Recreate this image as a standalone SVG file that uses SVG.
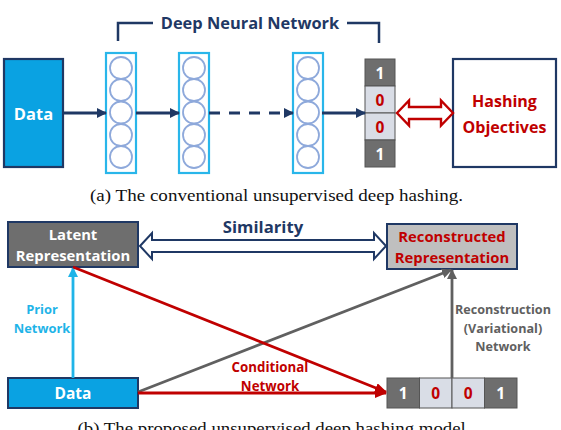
<svg xmlns="http://www.w3.org/2000/svg" width="561" height="430" viewBox="0 0 561 430">
<defs>
<style>
.lbl{font-family:"Open Sans",Lato,"Liberation Sans",sans-serif;font-weight:bold;text-anchor:middle}
.cap{font-family:"Liberation Serif","DejaVu Serif",serif;font-size:16.5px;fill:#111}
.layer{fill:#fff;stroke:#29B6EA;stroke-width:2.2}
.neu{fill:#fff;stroke:#8EA9DB;stroke-width:1.8}
.dark{fill:#6E6E6E;stroke:#555;stroke-width:1}
.light{fill:#D9DDE6;stroke:#555;stroke-width:1}
.w{fill:#fff}
.r{fill:#C00000}
</style>
<marker id="mNavy" viewBox="0 0 10 10" refX="9" refY="5" markerWidth="10" markerHeight="10" markerUnits="userSpaceOnUse" orient="auto"><path d="M0,0 L10,5 L0,10 z" fill="#1F3864"/></marker>
<marker id="mRed" viewBox="0 0 12 10" refX="11" refY="5" markerWidth="12" markerHeight="10" markerUnits="userSpaceOnUse" orient="auto"><path d="M0,0 L12,5 L0,10 z" fill="#C00000"/></marker>
<marker id="mGray" viewBox="0 0 10 10" refX="9" refY="5" markerWidth="10" markerHeight="10" markerUnits="userSpaceOnUse" orient="auto"><path d="M0,0 L10,5 L0,10 z" fill="#606060"/></marker>
<marker id="mCyan" viewBox="0 0 10 10" refX="9" refY="5" markerWidth="10" markerHeight="10" markerUnits="userSpaceOnUse" orient="auto"><path d="M0,0 L10,5 L0,10 z" fill="#1FB4E8"/></marker>
<g id="neurons">
<rect class="layer" x="0" y="0" width="30" height="120"/>
<circle class="neu" cx="15" cy="15" r="11"/>
<circle class="neu" cx="15" cy="37" r="11"/>
<circle class="neu" cx="15" cy="59.5" r="11"/>
<circle class="neu" cx="15" cy="82" r="11"/>
<circle class="neu" cx="15" cy="104" r="11"/>
</g>
</defs>

<!-- (a) -->
<g id="dnn-bracket">
<polyline points="118,41 118,23 153,23" fill="none" stroke="#1F3864" stroke-width="2.5"/>
<polyline points="347,23 379,23 379,43" fill="none" stroke="#1F3864" stroke-width="2.5"/>
<text class="lbl" x="250" y="29" font-size="16.4" fill="#1F3864">Deep Neural Network</text>
</g>
<g id="data-a">
<rect x="4" y="59" width="59" height="108" fill="#0AA2E2" stroke="#1F3864" stroke-width="2.2"/>
<text class="lbl w" x="33.5" y="120" font-size="16.5">Data</text>
</g>
<g id="layer1"><use href="#neurons" x="106" y="53"/></g>
<g id="layer2"><use href="#neurons" x="179" y="53"/></g>
<g id="layer3"><use href="#neurons" x="293" y="53"/></g>
<g id="code-a">
<rect class="dark" x="365" y="59" width="30" height="27"/>
<rect class="light" x="365" y="86" width="30" height="27"/>
<rect class="light" x="365" y="113" width="30" height="27"/>
<rect class="dark" x="365" y="140" width="30" height="27"/>
<text class="lbl w" x="380" y="78.5" font-size="15.5">1</text>
<text class="lbl r" x="380" y="105.5" font-size="15.5">0</text>
<text class="lbl r" x="380" y="132.5" font-size="15.5">0</text>
<text class="lbl w" x="380" y="159.5" font-size="15.5">1</text>
</g>
<g id="hashing-objectives">
<rect x="453" y="59" width="103" height="108" fill="#fff" stroke="#1F3864" stroke-width="2.2"/>
<text class="lbl r" x="504.5" y="107" font-size="16">Hashing</text>
<text class="lbl r" x="504.5" y="133" font-size="16">Objectives</text>
</g>

<g id="connectors-a" fill="none">
<line x1="63" y1="113" x2="106" y2="113" stroke="#1F3864" stroke-width="2.8" marker-end="url(#mNavy)"/>
<line x1="136" y1="113" x2="179" y2="113" stroke="#1F3864" stroke-width="2.8" marker-end="url(#mNavy)"/>
<line x1="209" y1="113" x2="293" y2="113" stroke="#1F3864" stroke-width="2.8" stroke-dasharray="11,9" marker-end="url(#mNavy)"/>
<line x1="322" y1="113" x2="365" y2="113" stroke="#1F3864" stroke-width="2.8" marker-end="url(#mNavy)"/>
<polygon points="397,113 409,100.5 409,107 441,107 441,100.5 453,113 441,125.5 441,119 409,119 409,125.5" fill="#fff" stroke="#C00000" stroke-width="2.4" stroke-linejoin="miter"/>
</g>

<text class="cap" x="276.5" y="201" text-anchor="middle" textLength="373" lengthAdjust="spacingAndGlyphs">(a) The conventional unsupervised deep hashing.</text>

<!-- (b) -->
<g id="latent">
<rect x="8" y="222" width="130" height="45" fill="#6E6E6E" stroke="#1F3864" stroke-width="2"/>
<text class="lbl w" x="73" y="240" font-size="14.8">Latent</text>
<text class="lbl w" x="73" y="261" font-size="14.8">Representation</text>
</g>
<g id="reconstructed">
<rect x="387" y="224" width="130" height="45" fill="#BFBFBF" stroke="#1F3864" stroke-width="2"/>
<text class="lbl r" x="452" y="242" font-size="14.8">Reconstructed</text>
<text class="lbl r" x="452" y="263" font-size="14.8">Representation</text>
</g>
<g id="data-b">
<rect x="8" y="378" width="130" height="30" fill="#0AA2E2" stroke="#1F3864" stroke-width="2"/>
<text class="lbl w" x="73" y="399" font-size="15.5">Data</text>
</g>
<g id="code-b">
<rect class="dark" x="387" y="378" width="32.5" height="30"/>
<rect class="light" x="419.5" y="378" width="32.5" height="30"/>
<rect class="light" x="452" y="378" width="32.5" height="30"/>
<rect class="dark" x="484.5" y="378" width="32.5" height="30"/>
<text class="lbl w" x="403.25" y="398.5" font-size="15.5">1</text>
<text class="lbl r" x="435.75" y="398.5" font-size="15.5">0</text>
<text class="lbl r" x="468.25" y="398.5" font-size="15.5">0</text>
<text class="lbl w" x="500.75" y="398.5" font-size="15.5">1</text>
</g>

<g id="connectors-b" fill="none">
<polygon points="140,246 152,233 152,240 374,240 374,233 386,246 374,259 374,252 152,252 152,259" fill="#fff" stroke="#1F3864" stroke-width="2"/>
<line x1="73" y1="378" x2="73" y2="268" stroke="#1FB4E8" stroke-width="2.8" marker-end="url(#mCyan)"/>
<line x1="138" y1="392" x2="451" y2="270" stroke="#606060" stroke-width="2.8" marker-end="url(#mGray)"/>
<line x1="452" y1="378" x2="452" y2="270" stroke="#606060" stroke-width="2.8" marker-end="url(#mGray)"/>
<line x1="73" y1="267" x2="386" y2="392" stroke="#C00000" stroke-width="2.8" marker-end="url(#mRed)"/>
<line x1="138" y1="393" x2="386" y2="393" stroke="#C00000" stroke-width="2.8" marker-end="url(#mRed)"/>
</g>

<g id="edge-labels">
<text class="lbl" x="263" y="233" font-size="16.7" fill="#1F3864">Similarity</text>
<text class="lbl" x="42" y="314" font-size="12.9" fill="#1FB4E8">Prior</text>
<text class="lbl" x="42" y="333" font-size="12.9" fill="#1FB4E8">Network</text>
<text class="lbl r" x="270" y="372" font-size="13.3">Conditional</text>
<text class="lbl r" x="270" y="391" font-size="13.3">Network</text>
<text class="lbl" x="503" y="314" font-size="12.6" fill="#606060">Reconstruction</text>
<text class="lbl" x="503" y="333" font-size="12.6" fill="#606060">(Variational)</text>
<text class="lbl" x="503" y="351" font-size="12.6" fill="#606060">Network</text>
</g>

<text class="cap" x="274" y="434" text-anchor="middle" textLength="393" lengthAdjust="spacingAndGlyphs">(b) The proposed unsupervised deep hashing model.</text>
</svg>
